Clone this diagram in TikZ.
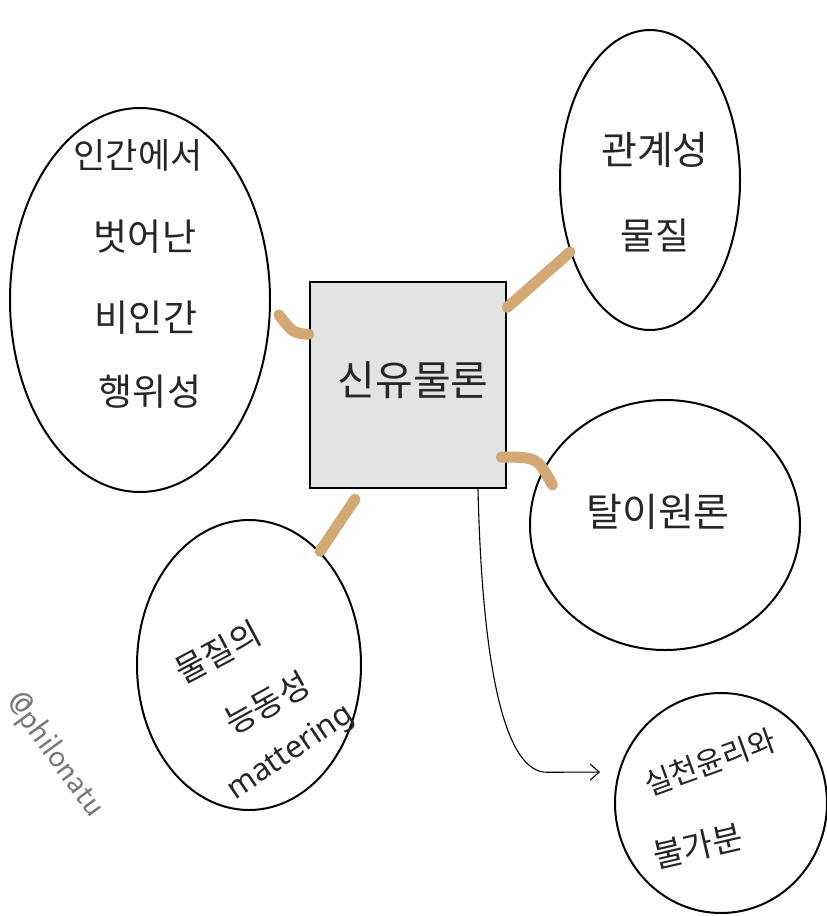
\documentclass[tikz,border=0pt]{standalone}
\usepackage{fontspec}
\newfontfamily\kr{Noto Sans CJK KR}
\setmainfont{Noto Sans}
\usetikzlibrary{shapes.geometric,arrows.meta,calc}
\definecolor{tanline}{RGB}{210,168,116}
\definecolor{boxfill}{RGB}{227,227,227}
\definecolor{wm}{RGB}{120,120,120}
\tikzset{
  bubble/.style={draw=black,line width=2pt,ellipse,inner sep=0pt},
  tanlink/.style={draw=tanline,line width=11pt,line cap=round},
  label/.style={font=\kr\fontsize{#1}{#1}\selectfont,inner sep=0pt,text=black!85},
}
\begin{document}
\begin{tikzpicture}[x=1pt,y=-1pt]
\useasboundingbox (0,0) rectangle (827,916);
% central box
\node[draw=black,line width=2.5pt,fill=boxfill,minimum width=196pt,minimum height=206pt,inner sep=0pt] (box) at (408,385) {};
\node[label=41] (boxt) at (413,380) {신유물론};
% ellipses
\node[bubble,minimum width=260pt,minimum height=384pt] (e1) at (140,300) {};
\node[bubble,minimum width=180pt,minimum height=300pt] (e2) at (650,180) {};
\node[bubble,minimum width=270pt,minimum height=250pt] (e3) at (665,525) {};
\node[bubble,minimum width=224pt,minimum height=290pt] (e4) at (249,665) {};
\node[bubble,minimum width=212pt,minimum height=220pt] (e5) at (721,803) {};
% texts
\node[label=35] (t1a) at (138,155) {인간에서};
\node[label=37] (t1b) at (145,237) {벗어난};
\node[label=37] (t1c) at (146,318) {비인간};
\node[label=37] (t1d) at (150,392) {행위성};
\node[label=39] (t2a) at (655,150) {관계성};
\node[label=37] (t2b) at (655,235) {물질};
\node[label=39] (t3) at (658,512) {탈이원론};
\node[label=33,rotate=28] (t4a) at (218,652) {물질의};
\node[label=33,rotate=29] (t4b) at (267,703) {능동성};
\node[font=\fontsize{31}{31}\selectfont,rotate=34,inner sep=0pt,text=black!85] (t4c) at (291,753) {mattering};
\node[label=30,rotate=20] (t5a) at (710,762) {실천윤리와};
\node[label=33,rotate=13] (t5b) at (698,846) {불가분};
\node[font=\sffamily\fontsize{34}{34}\selectfont,rotate=-54,inner sep=0pt,text=wm] (wmk) at (55,755) {@philonatu};
% tan connectors
\draw[tanlink] ($(e1.-3)+(8,8)$) .. controls ($(e1.-3)+(22,26)$) .. (box.153);
\draw[tanlink] (box.38) -- (e2.222);
\draw[tanlink] ($(box.-36)+(-6,0)$) .. controls ($(box.-36)+(30,0)$) .. ($(e3.160)+(14,6)$);
\coordinate (bl) at ($(box.south)+(-53,10)$);
\draw[tanlink] (bl) -- (e4.58);
% thin arrow
\coordinate (as) at ($(box.south)+(70,0)$);
\draw[line width=1.1pt,-{Straight Barb[length=9pt,width=16pt]},shorten >=14pt] (as) .. controls ($(as)+(4,170)$) and ($(as)+(25,285)$) .. ($(as)+(70,283)$) -- (e5.west |- 0,772);
\end{tikzpicture}
\end{document}
